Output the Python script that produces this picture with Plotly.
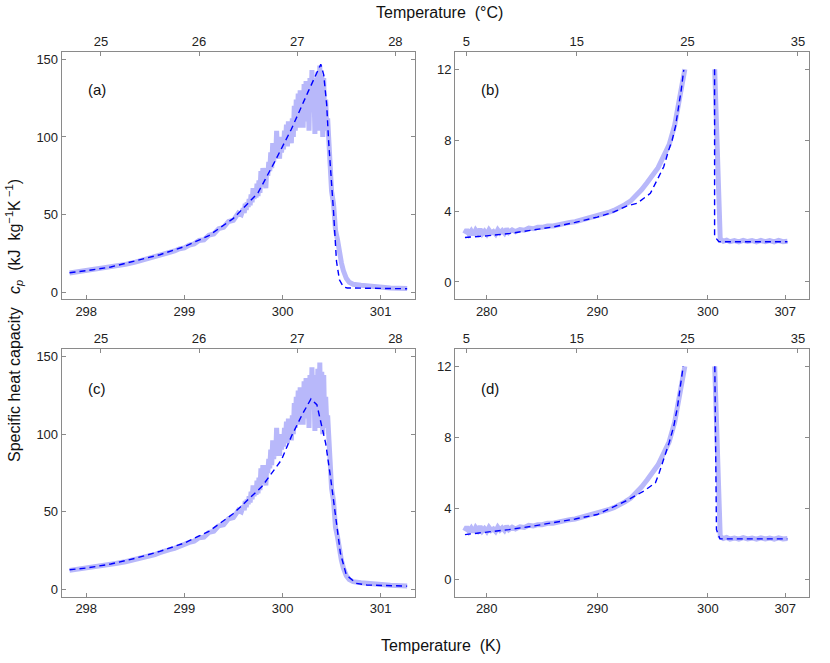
import plotly.graph_objects as go

# ---------------- data ----------------
# Measured specific heat capacity (same measured data in panels a and c), K / kJ kg-1 K-1
meas_ac_T = [297.83, 297.90, 298.00, 298.10, 298.20, 298.30, 298.40, 298.50, 298.60, 298.70,
             298.75, 298.80, 298.85, 298.90, 298.95, 299.00, 299.05, 299.10, 299.15, 299.20,
             299.25, 299.30, 299.35, 299.40, 299.45, 299.50, 299.55, 299.58,
             299.60, 299.61, 299.62, 299.63, 299.64, 299.65, 299.66, 299.67, 299.68, 299.69,
             299.70, 299.71, 299.72, 299.73, 299.74, 299.75, 299.76, 299.77, 299.78, 299.79,
             299.80, 299.81, 299.82, 299.83, 299.84, 299.85, 299.86, 299.87, 299.88, 299.89,
             299.90, 299.91, 299.92, 299.93, 299.94, 299.95, 299.96, 299.97, 299.98, 299.99,
             300.00, 300.01, 300.02, 300.03, 300.04, 300.05, 300.06, 300.07, 300.08, 300.09,
             300.10, 300.11, 300.12, 300.13, 300.14, 300.15, 300.16, 300.17, 300.18, 300.19,
             300.20, 300.21, 300.22, 300.23, 300.24, 300.25, 300.26, 300.27, 300.28, 300.29,
             300.30, 300.31, 300.32, 300.33, 300.34, 300.35, 300.36, 300.37, 300.38, 300.39,
             300.40, 300.41, 300.42, 300.43, 300.44, 300.45, 300.46, 300.47, 300.48,
             300.50, 300.52, 300.53, 300.54, 300.56, 300.58, 300.60, 300.62, 300.65, 300.68,
             300.72, 300.80, 300.90, 301.00, 301.10, 301.27]
meas_ac_cp = [12.4, 13.0, 13.8, 14.6, 15.6, 16.8, 18.0, 19.4, 21.0, 22.6,
              23.8, 24.4, 25.8, 26.6, 28.0, 28.6, 30.4, 31.2, 33.4, 33.8,
              36.8, 37.6, 41.0, 41.8, 45.6, 46.4, 51.0, 50.0,
              54, 51, 57, 53, 58, 55, 60, 56, 63, 58,
              67, 60, 66, 61, 70, 62, 72, 64, 78, 68,
              80, 70, 74, 67, 80, 75, 84, 78, 90, 80,
              96, 84, 92, 86, 104, 88, 95, 86, 100, 90,
              98, 92, 104, 96, 108, 94, 110, 98, 103, 96,
              112, 100, 120, 104, 124, 110, 128, 106, 130, 112,
              126, 106, 134, 110, 136, 114, 130, 104, 138, 118,
              143, 116, 132, 102, 138, 112, 142, 104, 146, 108,
              140, 100, 138, 104, 124, 108, 112, 100, 85,
              65, 57, 48, 40, 34, 25, 19, 14, 9, 6.5,
              5.2, 4.5, 3.8, 3.2, 2.8, 2.4]

# Model curves (dashed) for panels a and c
model_a_T = [297.83, 298.00, 298.25, 298.50, 298.75, 299.00, 299.25, 299.50, 299.75, 299.92,
             300.09, 300.26, 300.37, 300.39, 300.42, 300.45, 300.47, 300.50, 300.52, 300.55,
             300.58, 300.62, 300.66, 301.27]
model_a_cp = [12.6, 13.9, 16.3, 20.0, 24.2, 29.4, 36.5, 47.6, 64.0, 84.0,
              105.0, 129.0, 144.0, 146.8, 140.0, 121.0, 97.0, 71.0, 52.0, 20.0,
              8.0, 3.5, 2.8, 2.3]
model_c_T = [297.83, 298.00, 298.25, 298.50, 298.75, 299.00, 299.25, 299.50, 299.79, 299.99,
             300.09, 300.20, 300.29, 300.35, 300.40, 300.44, 300.49, 300.54, 300.59, 300.65,
             300.75, 300.86, 301.27]
model_c_cp = [12.8, 13.9, 16.5, 20.2, 24.6, 30.0, 37.5, 49.0, 66.3, 83.5,
              98.5, 112.5, 122.6, 118.9, 105.0, 94.0, 72.0, 47.0, 23.4, 9.5,
              4.1, 3.0, 2.3]

# Measured data for panels b and d (clipped at 12; None marks the clipped gap)
meas_bd_T = [278.0, 278.2, 278.4, 278.6, 278.8, 279.0, 279.2, 279.4, 279.6, 279.8,
             280.0, 280.2, 280.4, 280.6, 280.8, 281.0, 281.2, 281.4, 281.6, 281.8,
             282.0, 282.3, 282.6, 283.0, 283.4, 283.8, 284.2, 284.6, 285.0, 285.5,
             286.0, 286.5, 287.0, 287.5, 288.0, 288.5, 289.0, 289.5, 290.0, 290.5,
             291.0, 291.5, 292.0, 292.5, 293.0, 293.5, 294.0, 294.5, 295.0, 295.5,
             296.0, 296.5, 297.0, 297.3, 297.6, 297.92,
             None,
             300.62, 301.12, 301.4, 301.7, 302.0, 302.4, 302.8, 303.2, 303.6, 304.0,
             304.4, 304.8, 305.2, 305.6, 306.0, 306.4, 306.8, 307.2]
meas_bd_cp = [2.72, 2.95, 2.70, 2.88, 2.66, 2.92, 2.75, 2.98, 2.72, 2.86,
              2.70, 2.93, 2.76, 2.84, 2.70, 2.94, 2.78, 2.90, 2.76, 3.00,
              2.80, 2.94, 2.84, 2.96, 2.92, 3.04, 3.00, 3.08, 3.08, 3.16,
              3.16, 3.24, 3.28, 3.36, 3.40, 3.48, 3.56, 3.64, 3.72, 3.82,
              3.92, 4.04, 4.18, 4.36, 4.56, 4.86, 5.20, 5.60, 6.00, 6.45,
              7.10, 7.75, 8.85, 9.80, 10.9, 12.0,
              None,
              12.0, 2.42, 2.30, 2.36, 2.27, 2.33, 2.26, 2.35, 2.28, 2.33,
              2.26, 2.34, 2.27, 2.33, 2.26, 2.34, 2.27, 2.30]

model_b_T = [278.03, 280.0, 282.1, 284.0, 286.0, 288.0, 290.0, 291.5, 292.7, 293.6,
             294.8, 295.41, 296.01, 296.46, 296.77, 297.07, 297.37, 297.59, 297.82,
             None, 300.61, 300.61, 301.0, 307.2]
model_b_cp = [2.51, 2.60, 2.74, 2.90, 3.10, 3.36, 3.66, 3.95, 4.29, 4.44,
              5.00, 5.75, 6.50, 7.44, 8.00, 8.76, 9.89, 10.83, 11.96,
              None, 12.0, 2.56, 2.27, 2.27]
model_d_T = [278.03, 280.0, 282.0, 284.0, 286.0, 288.0, 290.0, 292.7, 294.2, 295.26,
             295.6, 296.0, 296.5, 296.92, 297.25, 297.52, 297.77,
             None, 300.63, 300.78, 301.09, 307.2]
model_d_cp = [2.52, 2.65, 2.80, 2.98, 3.18, 3.40, 3.65, 4.45, 4.97, 5.44,
              6.00, 6.75, 7.70, 8.63, 9.70, 10.90, 12.0,
              None, 12.0, 2.80, 2.28, 2.28]

ticks_K_ac = [298, 299, 300, 301]
ticks_C_ac = [25, 26, 27, 28]
ticks_y_ac = [0, 50, 100, 150]
ticks_K_bd = [280, 290, 300, 307]
ticks_C_bd = [5, 15, 25, 35]
ticks_y_bd = [0, 4, 8, 12]
panel_labels = ["(a)", "(b)", "(c)", "(d)"]

# ---------------- figure ----------------
W, H = 830, 663
MEAS_COLOR = "rgb(184,184,250)"
MODEL_COLOR = "#0000ff"
AXIS_COLOR = "#8a8a8a"
FONT = "Liberation Sans, Arial, Helvetica, sans-serif"

fig = go.Figure()

panels = [
    dict(x="x", y="y", top="x5", mT=meas_ac_T, mV=meas_ac_cp, dT=model_a_T, dV=model_a_cp),
    dict(x="x2", y="y2", top="x6", mT=meas_bd_T, mV=meas_bd_cp, dT=model_b_T, dV=model_b_cp),
    dict(x="x3", y="y3", top="x7", mT=meas_ac_T, mV=meas_ac_cp, dT=model_c_T, dV=model_c_cp),
    dict(x="x4", y="y4", top="x8", mT=meas_bd_T, mV=meas_bd_cp, dT=model_d_T, dV=model_d_cp),
]

for p in panels:
    fig.add_trace(go.Scatter(x=p["mT"], y=p["mV"], xaxis=p["x"], yaxis=p["y"], mode="lines",
                             line=dict(color=MEAS_COLOR, width=5), connectgaps=False,
                             showlegend=False, hoverinfo="skip"))
    fig.add_trace(go.Scatter(x=p["dT"], y=p["dV"], xaxis=p["x"], yaxis=p["y"], mode="lines",
                             line=dict(color=MODEL_COLOR, width=1.4, dash="6px,4px"),
                             connectgaps=False, showlegend=False, hoverinfo="skip"))
    # empty trace so the Celsius (top) axis is drawn
    fig.add_trace(go.Scatter(x=[], y=[], xaxis=p["top"], yaxis=p["y"], mode="lines",
                             showlegend=False, hoverinfo="skip"))

def px2x(px):
    return px / W

def py2y(py):
    return 1 - py / H

dom_x_left = [px2x(61.7), px2x(415)]
dom_x_right = [px2x(455), px2x(809)]
dom_y_top = [py2y(299.3), py2y(52.3)]
dom_y_bot = [py2y(596.7), py2y(349.3)]

K0 = 273.15
range_K_ac = [297.75, 301.35]
range_K_bd = [277.13, 309.15]
range_y_ac = [-4.5, 154.5]
range_y_bd = [-0.98, 12.96]

tickfont = dict(family=FONT, size=13, color="#222")

def xax(domain, rng, tickvals, anchor):
    return dict(domain=domain, range=rng, tickvals=tickvals, ticktext=[str(v) for v in tickvals],
                anchor=anchor, showline=True, linecolor=AXIS_COLOR, linewidth=1,
                ticks="inside", ticklen=4, tickcolor=AXIS_COLOR, showgrid=False, zeroline=False,
                tickfont=tickfont, mirror=False)

def topax(over, anchor, rng, tickvals):
    return dict(overlaying=over, anchor=anchor, side="top", range=rng, tickvals=tickvals,
                ticktext=[str(v) for v in tickvals], showline=True, linecolor=AXIS_COLOR,
                linewidth=1, ticks="inside", ticklen=4, tickcolor=AXIS_COLOR, showgrid=False,
                zeroline=False, tickfont=tickfont)

def yax(domain, rng, tickvals, anchor):
    return dict(domain=domain, range=rng, tickvals=tickvals, ticktext=[str(v) for v in tickvals],
                anchor=anchor, showline=True, linecolor=AXIS_COLOR, linewidth=1,
                ticks="inside", ticklen=4, tickcolor=AXIS_COLOR, showgrid=False, zeroline=False,
                tickfont=tickfont, mirror="ticks")

fig.update_layout(
    width=W, height=H,
    margin=dict(l=0, r=0, t=0, b=0),
    paper_bgcolor="white", plot_bgcolor="white",
    font=dict(family=FONT, size=13, color="#222"),
    xaxis=xax(dom_x_left, range_K_ac, ticks_K_ac, "y"),
    yaxis=yax(dom_y_top, range_y_ac, ticks_y_ac, "x"),
    xaxis2=xax(dom_x_right, range_K_bd, ticks_K_bd, "y2"),
    yaxis2=yax(dom_y_top, range_y_bd, ticks_y_bd, "x2"),
    xaxis3=xax(dom_x_left, range_K_ac, ticks_K_ac, "y3"),
    yaxis3=yax(dom_y_bot, range_y_ac, ticks_y_ac, "x3"),
    xaxis4=xax(dom_x_right, range_K_bd, ticks_K_bd, "y4"),
    yaxis4=yax(dom_y_bot, range_y_bd, ticks_y_bd, "x4"),
    xaxis5=topax("x", "y", [range_K_ac[0] - K0, range_K_ac[1] - K0], ticks_C_ac),
    xaxis6=topax("x2", "y2", [range_K_bd[0] - K0, range_K_bd[1] - K0], ticks_C_bd),
    xaxis7=topax("x3", "y3", [range_K_ac[0] - K0, range_K_ac[1] - K0], ticks_C_ac),
    xaxis8=topax("x4", "y4", [range_K_bd[0] - K0, range_K_bd[1] - K0], ticks_C_bd),
)

annos = []
label_pos = [(97, 90), (490, 90), (97, 388), (490, 388)]
for lab, (lx, ly) in zip(panel_labels, label_pos):
    annos.append(dict(text=lab, x=px2x(lx), y=py2y(ly), xref="paper", yref="paper",
                      showarrow=False, xanchor="center", yanchor="middle",
                      font=dict(family=FONT, size=15, color="#111")))
annos.append(dict(text="Temperature  (°C)", x=px2x(439), y=py2y(12), xref="paper", yref="paper",
                  showarrow=False, xanchor="center", yanchor="middle",
                  font=dict(family=FONT, size=16, color="#111")))
annos.append(dict(text="Temperature  (K)", x=px2x(441), y=py2y(645), xref="paper", yref="paper",
                  showarrow=False, xanchor="center", yanchor="middle",
                  font=dict(family=FONT, size=16, color="#111")))
annos.append(dict(text="Specific heat capacity   <i>c</i><sub><i>p</i></sub>  (kJ  kg<sup>−1</sup>K<sup> −1</sup>)",
                  x=px2x(14), y=py2y(321), xref="paper", yref="paper", textangle=-90,
                  showarrow=False, xanchor="center", yanchor="middle",
                  font=dict(family=FONT, size=16, color="#111")))
fig.update_layout(annotations=annos)

fig.write_html("out.html", config={"displayModeBar": False},
               post_script="document.body.style.margin='0px';")
